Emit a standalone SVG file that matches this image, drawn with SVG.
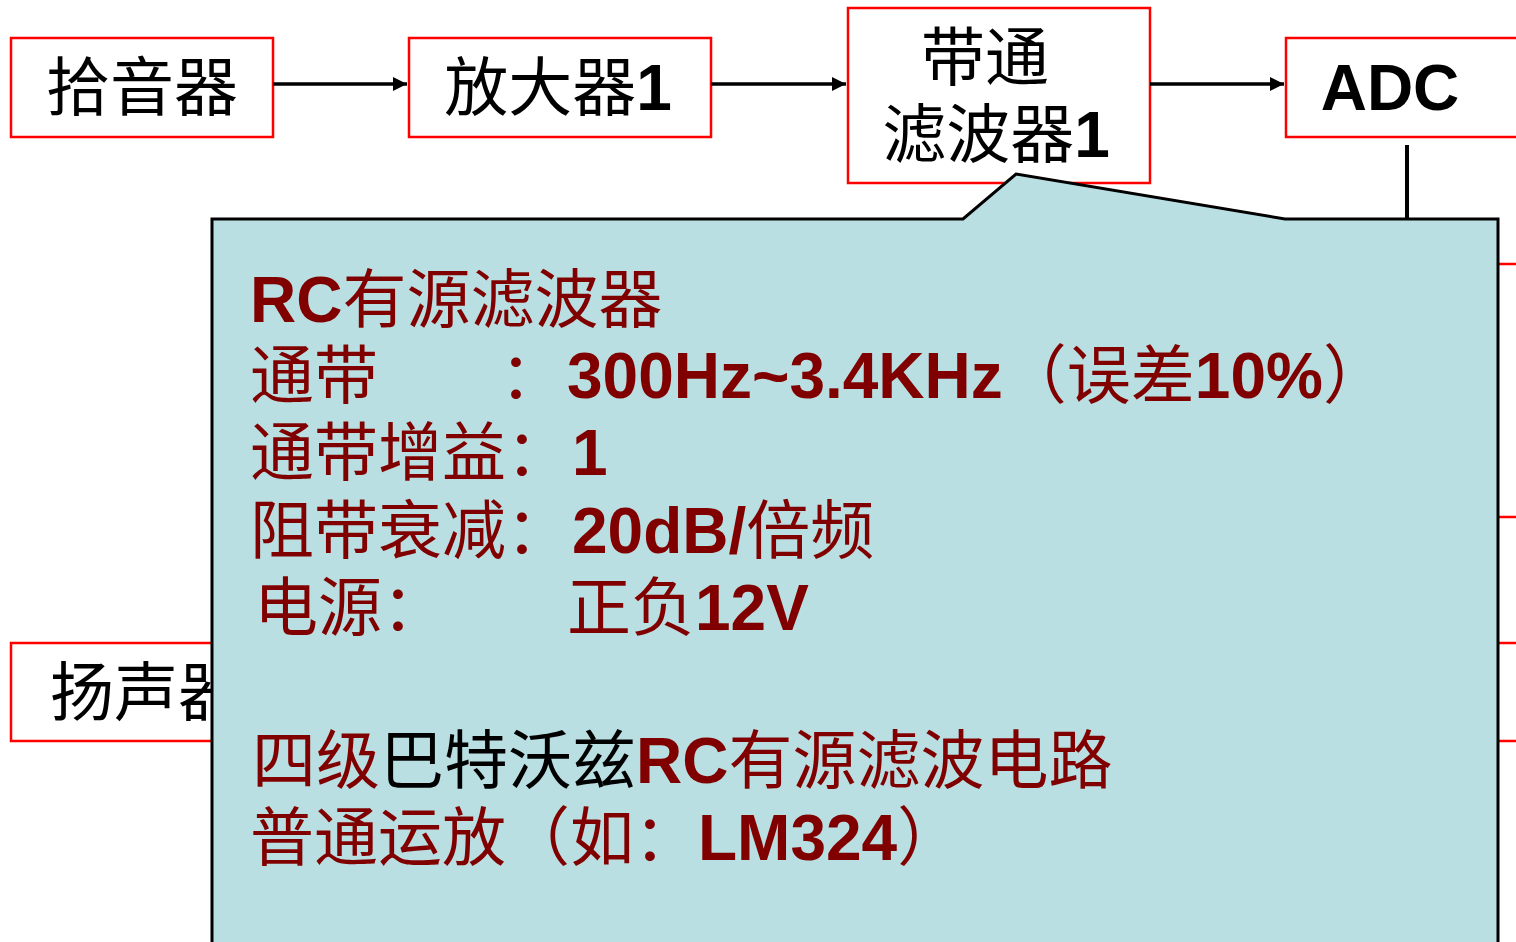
<svg xmlns="http://www.w3.org/2000/svg" width="1516" height="942" viewBox="0 0 1516 942">
<style>
.box{fill:#fff;stroke:#f00;stroke-width:2.5}
.lbl{font-family:"Liberation Sans","Noto Sans CJK SC",sans-serif;font-size:64px;fill:#000}
.b{font-weight:bold}
.conn{stroke:#000;stroke-width:3.5;fill:none}
.ct{font-family:"Liberation Sans","Noto Sans CJK SC",sans-serif;font-size:64px;fill:#800000}
</style>
<defs>
<marker id="ah" viewBox="0 0 10 10" refX="10" refY="5" markerWidth="4" markerHeight="4" orient="auto" markerUnits="strokeWidth">
<path d="M0,0 L10,5 L0,10 Z" fill="#000"/>
</marker>
</defs>
<g id="node-pickup">
<rect class="box" x="11" y="38" width="262" height="99"/>
<text class="lbl" x="142" y="110" text-anchor="middle">拾音器</text>
</g>
<g id="node-amp1">
<rect class="box" x="409" y="38" width="302" height="99"/>
<text class="lbl" x="558" y="110" text-anchor="middle">放大器<tspan class="b">1</tspan></text>
</g>
<g id="node-bpf1">
<rect class="box" x="848" y="8" width="302" height="175"/>
<text class="lbl" x="985" y="80" text-anchor="middle">带通</text>
<text class="lbl" x="996" y="157" text-anchor="middle">滤波器<tspan class="b">1</tspan></text>
</g>
<g id="node-adc">
<rect class="box" x="1286" y="38" width="260" height="99"/>
<text class="lbl b" x="1390" y="110" text-anchor="middle">ADC</text>
</g>
<g id="node-right-upper">
<rect class="box" x="1420" y="264" width="130" height="253"/>
</g>
<g id="node-right-lower">
<rect class="box" x="1420" y="643" width="130" height="98"/>
</g>
<g id="node-speaker">
<rect class="box" x="11" y="643" width="300" height="98"/>
<text class="lbl" x="50" y="715">扬声器</text>
</g>
<g id="connectors">
<line class="conn" x1="273" y1="84" x2="407" y2="84" marker-end="url(#ah)"/>
<line class="conn" x1="711" y1="84" x2="846" y2="84" marker-end="url(#ah)"/>
<line class="conn" x1="1150" y1="84" x2="1284" y2="84" marker-end="url(#ah)"/>
<line x1="1407" y1="145" x2="1407" y2="222" stroke="#000" stroke-width="4"/>
</g>
<g id="callout">
<path d="M212,950 L212,219 L963,219 L1016,174 L1285,219 L1498,219 L1498,950 Z" fill="#B9DFE3" stroke="#000" stroke-width="3"/>
<text class="ct" x="250" y="322"><tspan class="b">RC</tspan>有源滤波器</text>
<text class="ct" x="250" y="398">通带</text>
<text class="ct" x="500" y="398">：</text>
<text class="ct" x="567" y="398"><tspan class="b">300Hz~3.4KHz</tspan>（误差<tspan class="b">10%</tspan>）</text>
<text class="ct" x="250" y="475">通带增益：<tspan class="b" x="572">1</tspan></text>
<text class="ct" x="250" y="553">阻带衰减：<tspan class="b" x="572">20dB/</tspan>倍频</text>
<text class="ct" x="254" y="630">电源：</text>
<text class="ct" x="567" y="630">正负<tspan class="b">12V</tspan></text>
<text class="ct" x="252" y="783">四级<tspan fill="#000">巴特沃兹</tspan><tspan class="b">RC</tspan>有源滤波电路</text>
<text class="ct" x="250" y="860">普通运放（如：<tspan class="b">LM324</tspan>）</text>
</g>
</svg>
